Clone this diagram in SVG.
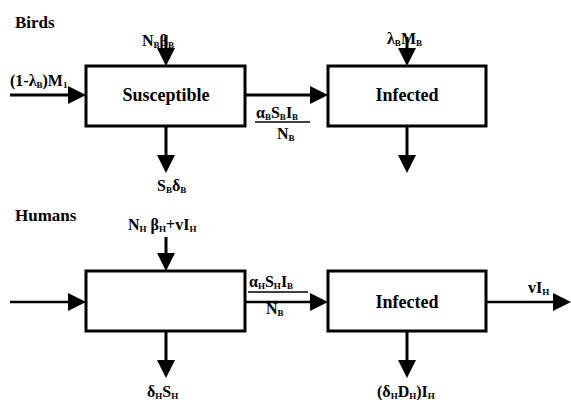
<svg xmlns="http://www.w3.org/2000/svg" width="571" height="400" viewBox="0 0 571 400">
<style>
text{font-family:'Liberation Serif',serif;font-weight:bold;fill:#000}
.title{font-size:17px}
.box{fill:#fff;stroke:#000;stroke-width:3}
.name{font-size:18px;text-anchor:middle}
.lbl{font-size:16px}
.sub{font-size:9px}
.arr{stroke:#000;stroke-width:3;fill:none}
.thin{stroke-width:2.5}
.head{fill:#000}
.bar{stroke:#000;stroke-width:1.6}
</style>
<text class="title" x="15" y="28">Birds</text>
<text class="title" x="15" y="221">Humans</text>
<g id="connectors">
<line class="arr" x1="10" y1="95" x2="70" y2="95"/><path class="head" d="M68,86 L86,95 L68,104 z"/>
<line class="arr" x1="166" y1="35" x2="166" y2="50"/><path class="head" d="M157,48 L166,66 L175,48 z"/>
<line class="arr" x1="166" y1="126" x2="166" y2="157"/><path class="head" d="M157,155 L166,173 L175,155 z"/>
<line class="arr" x1="245" y1="95" x2="312" y2="95"/><path class="head" d="M310,86 L328,95 L310,104 z"/>
<line class="arr" x1="407" y1="37" x2="407" y2="50"/><path class="head" d="M398,48 L407,66 L416,48 z"/>
<line class="arr" x1="407" y1="126" x2="407" y2="157"/><path class="head" d="M398,155 L407,173 L416,155 z"/>
<line class="arr thin" x1="10" y1="302" x2="70" y2="302"/><path class="head" d="M68,293 L86,302 L68,311 z"/>
<line class="arr" x1="166" y1="237" x2="166" y2="255"/><path class="head" d="M157,253 L166,271 L175,253 z"/>
<line class="arr" x1="166" y1="331" x2="166" y2="362"/><path class="head" d="M157,360 L166,378 L175,360 z"/>
<line class="arr thin" x1="245" y1="302" x2="312" y2="302"/><path class="head" d="M310,293 L328,302 L310,311 z"/>
<line class="arr thin" x1="486" y1="302" x2="555" y2="302"/><path class="head" d="M553,293 L571,302 L553,311 z"/>
<line class="arr" x1="407" y1="331" x2="407" y2="362"/><path class="head" d="M398,360 L407,378 L416,360 z"/>
</g>
<g id="bird-susceptible">
<rect class="box" x="86" y="66" width="159" height="60"/>
<text class="name" x="166" y="101">Susceptible</text>
</g>
<g id="bird-infected">
<rect class="box" x="328" y="66" width="158" height="60"/>
<text class="name" x="407" y="101">Infected</text>
</g>
<g id="human-susceptible">
<rect class="box" x="86" y="271" width="159" height="60"/>
</g>
<g id="human-infected">
<rect class="box" x="328" y="271" width="158" height="60"/>
<text class="name" x="407" y="308">Infected</text>
</g>
<g id="labels">
<text class="lbl" x="10" y="86">(1-λ<tspan class="sub" dy="2">B</tspan><tspan dy="-2">)M</tspan><tspan class="sub" dy="2">1</tspan></text>
<text class="lbl" x="142" y="46">N<tspan class="sub" dy="2">B</tspan><tspan dy="-2">β</tspan><tspan class="sub" dy="2">B</tspan></text>
<text class="lbl" x="157" y="191">S<tspan class="sub" dy="2">B</tspan><tspan dy="-2">δ</tspan><tspan class="sub" dy="2">B</tspan></text>
<text class="lbl" x="387" y="44">λ<tspan class="sub" dy="2">B</tspan><tspan dy="-2">M</tspan><tspan class="sub" dy="2">B</tspan></text>
<text class="lbl" x="256" y="118">α<tspan class="sub" dy="2">B</tspan><tspan dy="-2">S</tspan><tspan class="sub" dy="2">B</tspan><tspan dy="-2">I</tspan><tspan class="sub" dy="2">B</tspan></text>
<line class="bar" x1="255" y1="122" x2="310" y2="122"/>
<text class="lbl" x="277" y="139">N<tspan class="sub" dy="2">B</tspan></text>
<text class="lbl" x="128" y="230">N<tspan class="sub" dy="2">H</tspan><tspan dy="-2"> β</tspan><tspan class="sub" dy="2">H</tspan><tspan dy="-2">+vI</tspan><tspan class="sub" dy="2">H</tspan></text>
<text class="lbl" x="249" y="287">α<tspan class="sub" dy="2">H</tspan><tspan dy="-2">S</tspan><tspan class="sub" dy="2">H</tspan><tspan dy="-2">I</tspan><tspan class="sub" dy="2">B</tspan></text>
<line class="bar" x1="248" y1="292" x2="308" y2="292"/>
<text class="lbl" x="266" y="314">N<tspan class="sub" dy="2">B</tspan></text>
<text class="lbl" x="147" y="397">δ<tspan class="sub" dy="2">H</tspan><tspan dy="-2">S</tspan><tspan class="sub" dy="2">H</tspan></text>
<text class="lbl" x="377" y="397">(δ<tspan class="sub" dy="2">H</tspan><tspan dy="-2">D</tspan><tspan class="sub" dy="2">H</tspan><tspan dy="-2">)I</tspan><tspan class="sub" dy="2">H</tspan></text>
<text class="lbl" x="528" y="293">vI<tspan class="sub" dy="2">H</tspan></text>
</g>
</svg>
